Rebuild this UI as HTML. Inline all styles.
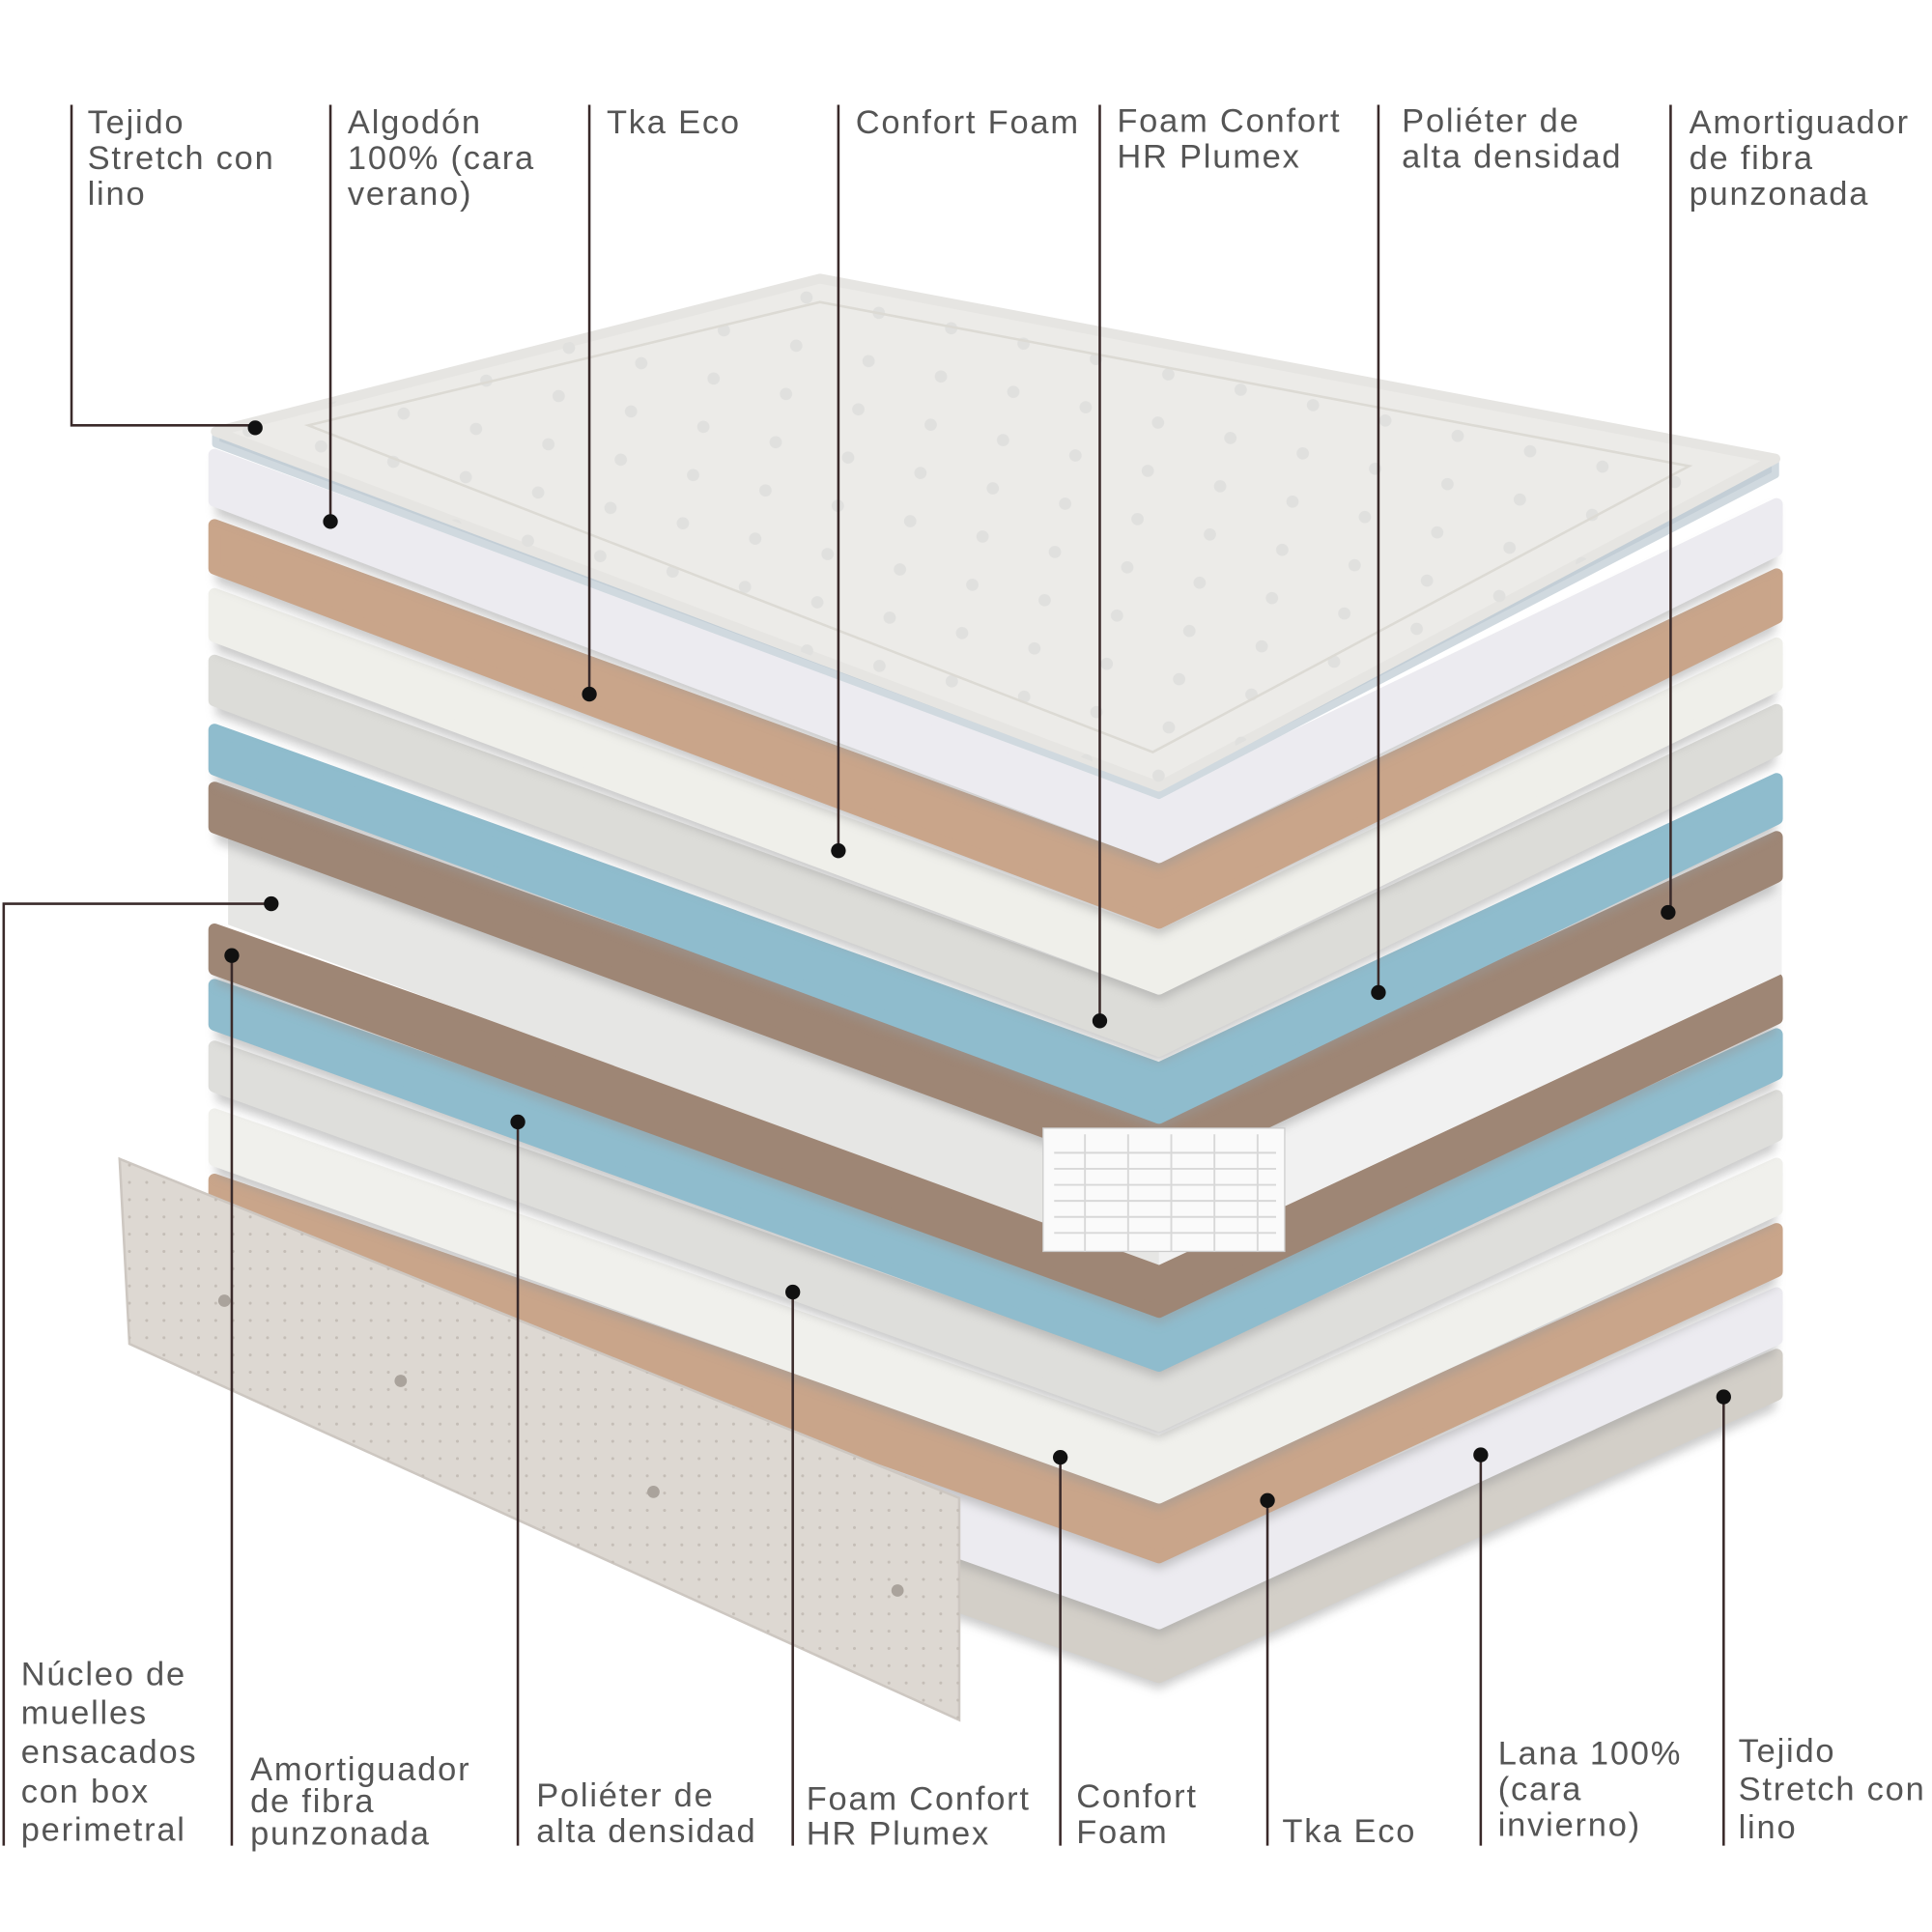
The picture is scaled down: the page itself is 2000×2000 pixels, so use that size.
<!DOCTYPE html>
<html><head><meta charset="utf-8"><style>
html,body{margin:0;padding:0;background:#fff}
svg{display:block}
text{font-family:"Liberation Sans",sans-serif;font-size:27px;letter-spacing:1.4px;fill:#555}
</style></head><body>
<svg width="2000" height="2000" viewBox="0 0 1567 1567" xmlns="http://www.w3.org/2000/svg">
<defs>
<filter id="sh" x="-5%" y="-5%" width="110%" height="120%"><feGaussianBlur stdDeviation="4"/></filter>
<pattern id="dots" width="14" height="14" patternUnits="userSpaceOnUse"><circle cx="7" cy="7" r="1.2" fill="#c4bdb6"/></pattern>
<pattern id="quilt" width="60" height="40" patternUnits="userSpaceOnUse" patternTransform="rotate(12)"><circle cx="30" cy="20" r="5" fill="#e0e0de"/></pattern>
</defs>
<g id="layers"></g>
<script>
(function(){
var L=[
['#d3cfc8',1095,1135],
['#ecebf0',1045,1090],
['#c9a58a',993,1035],
['#f0f0ec',940,985],
['#dededb',885,925],
['#8fbccd',835,875],
['#9e8675',790,830],
['CORE',715,790],
['#9e8675',675,715],
['#8fbccd',628,668],
['#dcdcd8',572,612],
['#efefea',518,560],
['#c9a58a',462,505],
['#ecebf0',405,450]
];
var g=document.getElementById('layers'),ns='http://www.w3.org/2000/svg';
function poly(pts,fill,extra){var p=document.createElementNS(ns,'polygon');p.setAttribute('points',pts.map(function(a){return a.join(',')}).join(' '));p.setAttribute('fill',fill);if(extra)for(var k in extra)p.setAttribute(k,extra[k]);g.appendChild(p);return p;}
L.forEach(function(l){
 var t=l[1]-40,b=l[2]-40,f=(l[1]-405)/690,dy=285-20*f;
 if(l[0]=='CORE'){
  poly([[185,t],[940,t+dy],[1445,l[1]],[1445,l[2]],[940,b+dy],[185,b]],'#e6e6e4');
  poly([[940,t+dy],[1445,l[1]],[1445,l[2]],[940,b+dy]],'#f1f1f1');
  return;}
 poly([[175,t+6],[940,t+dy+6],[1440,l[1]+6],[1440,l[2]+8],[940,b+dy+10],[175,b+8]],'#999',{filter:'url(#sh)',opacity:'0.5'});
 poly([[174,t+4],[940,t+dy],[1441,l[1]+4],[1441,l[2]-4],[940,b+dy],[174,b-4]],l[0],{'stroke':l[0],'stroke-width':'10','stroke-linejoin':'round'});
});
})();
</script>
<!-- springs -->
<rect x="846" y="915" width="196" height="100" fill="#fafafa" stroke="#ccc"/>
<g stroke="#d8d8d8" stroke-width="1.5" fill="none">
<path d="M855 935h180M855 948h180M855 961h180M855 974h180M855 987h180M855 1000h180"/>
<path d="M880 920v95M915 920v95M950 920v95M985 920v95M1020 920v95"/>
</g>
<!-- top quilted panel -->
<polygon points="175,352 665,226 1440,372 1440,385 940,645 175,360" fill="#c3ced6" stroke="#d0d9df" stroke-width="6" stroke-linejoin="round"/>
<polygon points="175,350 665,226 1440,372 940,638" fill="#ecebe8" stroke="#e6e5e2" stroke-width="8" stroke-linejoin="round"/>
<polygon points="175,350 665,226 1440,372 940,638" fill="url(#quilt)"/>
<polygon points="250,345 665,245 1370,378 935,610" fill="none" stroke="#dcdad4" stroke-width="2"/>
<!-- side panel -->
<polygon points="97,940 778,1215 778,1395 105,1090" fill="#ddd8d2" stroke="#cdc7c1" stroke-width="2"/>
<polygon points="97,940 778,1215 778,1395 105,1090" fill="url(#dots)"/>
<g fill="#aaa39c"><circle cx="182" cy="1055" r="5"/><circle cx="325" cy="1120" r="5"/><circle cx="530" cy="1210" r="5"/><circle cx="728" cy="1290" r="5"/></g>
<!-- leader lines -->
<g stroke="#3a2a2a" stroke-width="2" fill="none">
<path d="M58 85V345H207"/><path d="M268 85V423"/><path d="M478 85V563"/><path d="M680 85V690"/>
<path d="M892 85V828"/><path d="M1118 85V805"/><path d="M1355 85V740"/>
<path d="M3 1497V733H220"/><path d="M188 775V1497"/><path d="M420 910V1497"/><path d="M643 1048V1497"/>
<path d="M860 1182V1497"/><path d="M1028 1217V1497"/><path d="M1201 1180V1497"/><path d="M1398 1133V1497"/>
</g>
<g fill="#111">
<circle cx="207" cy="347" r="6"/><circle cx="268" cy="423" r="6"/><circle cx="478" cy="563" r="6"/><circle cx="680" cy="690" r="6"/>
<circle cx="892" cy="828" r="6"/><circle cx="1118" cy="805" r="6"/><circle cx="1353" cy="740" r="6"/>
<circle cx="220" cy="733" r="6"/><circle cx="188" cy="775" r="6"/><circle cx="420" cy="910" r="6"/><circle cx="643" cy="1048" r="6"/>
<circle cx="860" cy="1182" r="6"/><circle cx="1028" cy="1217" r="6"/><circle cx="1201" cy="1180" r="6"/><circle cx="1398" cy="1133" r="6"/>
</g>
<!-- labels -->
<text x="71" y="108">Tejido</text><text x="71" y="137">Stretch con</text><text x="71" y="166">lino</text>
<text x="282" y="108">Algodón</text><text x="282" y="137">100% (cara</text><text x="282" y="166">verano)</text>
<text x="492" y="108">Tka Eco</text>
<text x="694" y="108">Confort Foam</text>
<text x="906" y="107">Foam Confort</text><text x="906" y="136">HR Plumex</text>
<text x="1137" y="107">Poliéter de</text><text x="1137" y="136">alta densidad</text>
<text x="1370" y="108">Amortiguador</text><text x="1370" y="137">de fibra</text><text x="1370" y="166">punzonada</text>
<text x="17" y="1367">Núcleo de</text><text x="17" y="1398">muelles</text><text x="17" y="1430">ensacados</text><text x="17" y="1462">con box</text><text x="17" y="1493">perimetral</text>
<text x="203" y="1444">Amortiguador</text><text x="203" y="1470">de fibra</text><text x="203" y="1496">punzonada</text>
<text x="435" y="1465">Poliéter de</text><text x="435" y="1494">alta densidad</text>
<text x="654" y="1468">Foam Confort</text><text x="654" y="1496">HR Plumex</text>
<text x="873" y="1466">Confort</text><text x="873" y="1495">Foam</text>
<text x="1040" y="1494">Tka Eco</text>
<text x="1215" y="1431">Lana 100%</text><text x="1215" y="1460">(cara</text><text x="1215" y="1489">invierno)</text>
<text x="1410" y="1429">Tejido</text><text x="1410" y="1460">Stretch con</text><text x="1410" y="1491">lino</text>
</svg>
</body></html>
